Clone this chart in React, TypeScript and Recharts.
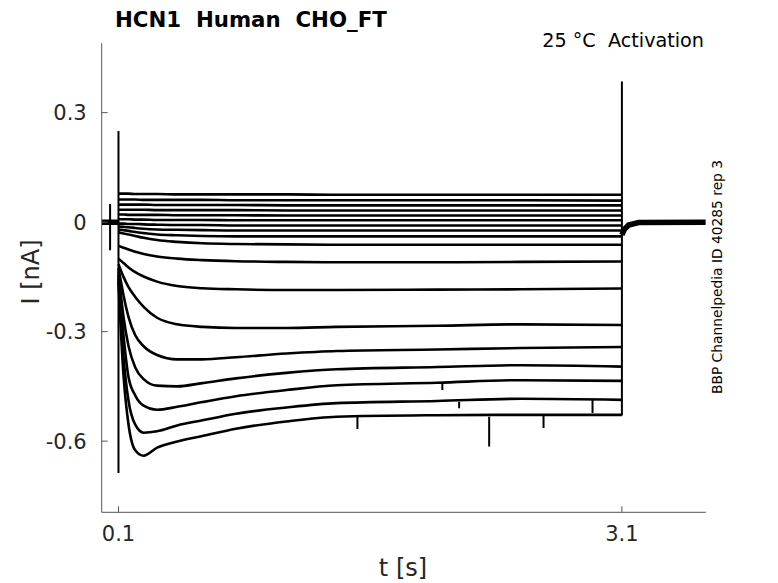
import { LineChart, Line, XAxis, YAxis } from "recharts";

const stepTimes = [0.1, 0.13, 0.16, 0.2, 0.25, 0.33, 0.45, 0.6, 0.8, 1.1, 1.4, 2.0, 2.5, 3.1];

// current (nA) of each sweep at stepTimes, top to bottom
const trace01 = [0.078, 0.078, 0.078, 0.077, 0.077, 0.077, 0.076, 0.076, 0.076, 0.076, 0.075, 0.075, 0.075, 0.075];
const trace02 = [0.062, 0.062, 0.062, 0.062, 0.061, 0.061, 0.061, 0.061, 0.06, 0.06, 0.06, 0.06, 0.06, 0.059];
const trace03 = [0.048, 0.048, 0.048, 0.048, 0.048, 0.047, 0.047, 0.047, 0.047, 0.046, 0.046, 0.046, 0.046, 0.046];
const trace04 = [0.034, 0.034, 0.034, 0.034, 0.034, 0.033, 0.033, 0.033, 0.033, 0.032, 0.032, 0.032, 0.032, 0.032];
const trace05 = [0.021, 0.021, 0.02, 0.02, 0.02, 0.02, 0.019, 0.019, 0.019, 0.018, 0.018, 0.018, 0.018, 0.018];
const trace06 = [0.008, 0.008, 0.008, 0.007, 0.007, 0.006, 0.006, 0.006, 0.005, 0.005, 0.005, 0.005, 0.005, 0.005];
const trace07 = [-0.004, -0.004, -0.005, -0.005, -0.006, -0.007, -0.008, -0.008, -0.009, -0.009, -0.009, -0.009, -0.009, -0.009];
const trace08 = [-0.012, -0.013, -0.014, -0.016, -0.018, -0.02, -0.021, -0.022, -0.023, -0.023, -0.023, -0.023, -0.023, -0.023];
const trace09 = [-0.02, -0.022, -0.024, -0.027, -0.03, -0.034, -0.036, -0.038, -0.039, -0.039, -0.039, -0.039, -0.039, -0.039];
const trace10 = [-0.028, -0.031, -0.034, -0.038, -0.043, -0.049, -0.054, -0.058, -0.06, -0.061, -0.062, -0.062, -0.062, -0.062];
const trace11 = [-0.065, -0.07, -0.075, -0.081, -0.087, -0.094, -0.1, -0.104, -0.107, -0.109, -0.11, -0.11, -0.109, -0.108];
const trace12 = [-0.1, -0.112, -0.124, -0.137, -0.149, -0.163, -0.175, -0.181, -0.184, -0.186, -0.186, -0.185, -0.184, -0.182];
const trace13 = [-0.115, -0.15, -0.178, -0.205, -0.232, -0.262, -0.28, -0.287, -0.29, -0.29, -0.287, -0.284, -0.28, -0.282];
const trace14 = [-0.125, -0.2, -0.26, -0.31, -0.34, -0.364, -0.376, -0.376, -0.37, -0.36, -0.353, -0.349, -0.345, -0.342];
const trace15 = [-0.135, -0.26, -0.34, -0.398, -0.43, -0.448, -0.45, -0.441, -0.428, -0.413, -0.403, -0.397, -0.392, -0.396];
const trace16 = [-0.145, -0.31, -0.425, -0.475, -0.503, -0.514, -0.506, -0.493, -0.477, -0.46, -0.447, -0.44, -0.433, -0.435];
const trace17 = [-0.155, -0.37, -0.49, -0.555, -0.577, -0.573, -0.557, -0.543, -0.525, -0.508, -0.496, -0.49, -0.484, -0.487];
const trace18 = [-0.165, -0.42, -0.555, -0.625, -0.64, -0.618, -0.601, -0.586, -0.566, -0.546, -0.533, -0.529, -0.528, -0.528];

const sweeps = [
  trace01, trace02, trace03, trace04, trace05, trace06, trace07, trace08, trace09,
  trace10, trace11, trace12, trace13, trace14, trace15, trace16, trace17, trace18,
];

// holding level before the step and the tail after it
const preTimes = [0, 0.1];
const preValues = [0, 0];
const tailTimes = [3.1, 3.115, 3.14, 3.2, 3.6];
const tailValues = [-0.035, -0.02, -0.008, -0.001, 0];

// capacitive spikes and glitches: time, top, bottom
const spikeTimes = [0.05, 0.1, 3.1, 1.524, 2.03, 2.13, 2.309, 2.633, 2.925];
const spikeHigh = [0.05, 0.25, 0.385, -0.532, -0.44, -0.492, -0.533, -0.528, -0.487];
const spikeLow = [-0.077, -0.687, -0.53, -0.567, -0.46, -0.51, -0.615, -0.564, -0.523];

const xTicks = [0.1, 3.1];
const yTicks = [-0.6, -0.3, 0, 0.3];

const FONT = "DejaVu Sans";
const INK = "#262626";

const traceData = sweeps.map((vals) => vals.map((v, k) => ({ t: stepTimes[k], i: v })));

const baseData = [
  ...preTimes.map((t, k) => ({ t, i: preValues[k] as number | null })),
  { t: 0.101, i: null },
  ...tailTimes.map((t, k) => ({ t, i: tailValues[k] as number | null })),
];

const spikeData: { t: number; i: number | null }[] = [];
spikeTimes.forEach((t, k) => {
  spikeData.push({ t, i: spikeHigh[k] });
  spikeData.push({ t, i: spikeLow[k] });
  spikeData.push({ t, i: null });
});

const fmt = (v: number) => (v === 0 ? "0" : String(v));

const XTick = (props: any) => {
  const { x, y, payload } = props;
  return (
    <g>
      <line x1={x} x2={x} y1={y} y2={y - 6} stroke="#555" strokeWidth={1} />
      <text x={x} y={y + 29} textAnchor="middle" fill={INK} fontFamily={FONT} fontSize={21}>
        {fmt(payload.value)}
      </text>
    </g>
  );
};

const YTick = (props: any) => {
  const { x, y, payload } = props;
  return (
    <g>
      <line x1={x} x2={x + 6} y1={y} y2={y} stroke="#555" strokeWidth={1} />
      <text x={x - 15} y={y + 7.5} textAnchor="end" fill={INK} fontFamily={FONT} fontSize={21}>
        {fmt(payload.value)}
      </text>
    </g>
  );
};

export default function App() {
  return (
    <div style={{ position: "absolute", left: 0, top: 0, width: 778, height: 583, background: "#fff" }}>
      <LineChart
        width={778}
        height={583}
        margin={{ top: 43.3, right: 72.2, left: 41.7, bottom: 40.7 }}
      >
        <XAxis
          dataKey="t"
          type="number"
          domain={[0, 3.6]}
          ticks={xTicks}
          tick={<XTick />}
          tickSize={0}
          tickMargin={0}
          tickLine={false}
          height={30}
          allowDataOverflow
          axisLine={{ stroke: "#555", strokeWidth: 1 }}
        />
        <YAxis
          type="number"
          domain={[-0.795, 0.49]}
          ticks={yTicks}
          tick={<YTick />}
          tickSize={0}
          tickMargin={0}
          tickLine={false}
          width={60}
          allowDataOverflow
          axisLine={{ stroke: "#555", strokeWidth: 1 }}
        />
        <Line
          data={baseData}
          dataKey="i"
          type="linear"
          stroke="#000"
          strokeWidth={5.5}
          dot={false}
          activeDot={false}
          isAnimationActive={false}
        />
        {traceData.map((d, k) => (
          <Line
            key={`sweep-${k}`}
            data={d}
            dataKey="i"
            type="monotone"
            stroke="#000"
            strokeWidth={2.6}
            dot={false}
            activeDot={false}
            isAnimationActive={false}
          />
        ))}
        <Line
          data={spikeData}
          dataKey="i"
          type="linear"
          stroke="#000"
          strokeWidth={2}
          dot={false}
          activeDot={false}
          isAnimationActive={false}
        />
      </LineChart>
      <svg
        width={778}
        height={583}
        style={{ position: "absolute", left: 0, top: 0, pointerEvents: "none" }}
      >
        <text x={115} y={27} fontFamily={FONT} fontWeight="bold" fontSize={21.3} fill="#000" style={{ whiteSpace: "pre" }}>
          HCN1  Human  CHO_FT
        </text>
        <text x={704} y={47} textAnchor="end" fontFamily={FONT} fontSize={19.2} fill="#000" style={{ whiteSpace: "pre" }}>
          25 °C  Activation
        </text>
        <text
          x={39}
          y={272}
          transform="rotate(-90 39 272)"
          textAnchor="middle"
          fontFamily={FONT}
          fontSize={24}
          fill={INK}
        >
          I [nA]
        </text>
        <text x={403} y={576} textAnchor="middle" fontFamily={FONT} fontSize={24} fill={INK}>
          t [s]
        </text>
        <text
          x={722}
          y={277}
          transform="rotate(-90 722 277)"
          textAnchor="middle"
          fontFamily={FONT}
          fontSize={13.8}
          fill="#000"
        >
          BBP Channelpedia ID 40285 rep 3
        </text>
      </svg>
    </div>
  );
}
